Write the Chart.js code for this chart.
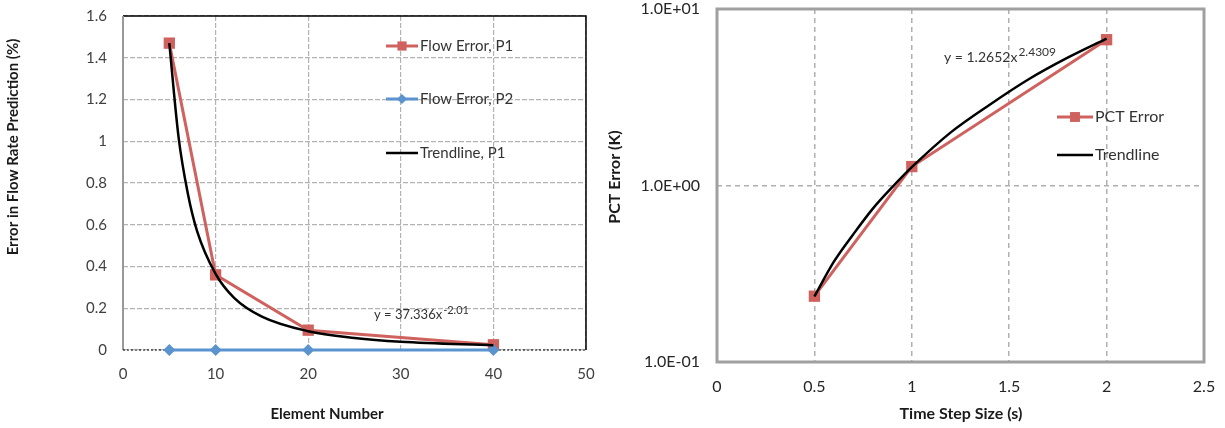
<!DOCTYPE html>
<html>
<head>
<meta charset="utf-8">
<script src="https://cdn.jsdelivr.net/npm/chart.js@4.4.1/dist/chart.umd.min.js"></script>
<style>
    html, body { margin: 0; padding: 0; background: #fff; }
    #leftBox { position: absolute; left: 0; top: 0; width: 600px; height: 428px; }
    #rightBox { position: absolute; left: 600px; top: 0; width: 625px; height: 428px; }
</style>
</head>
<body>
<div id="leftBox"><canvas id="flowChart"></canvas></div>
<div id="rightBox"><canvas id="pctChart"></canvas></div>
<script>
// dades llegides del grafic
const elementNumbers = [5, 10, 20, 40];
const flowErrorP1 = [1.47, 0.36, 0.095, 0.025];
const flowErrorP2 = [0, 0, 0, 0];
const trendP1X = [5, 6, 7, 8, 10, 12, 15, 20, 25, 30, 40];
const trendP1Y = [1.47, 1.02, 0.75, 0.57, 0.365, 0.25, 0.16, 0.09, 0.058, 0.04, 0.023];

const timeSteps = [0.5, 1, 2];
const pctError = [0.236, 1.28, 6.7];
const trendPctX = [0.5, 0.6, 0.7, 0.8, 0.9, 1, 1.2, 1.4, 1.6, 1.8, 2];
const trendPctY = [0.235, 0.37, 0.53, 0.74, 0.98, 1.27, 2.0, 2.87, 4.0, 5.3, 6.8];
const pctTicksY = [0.1, 1, 10];

const RED = '#cf625e';
const BLUE = '#5b93cf';
const FONT = 'Lato';

function toPoints(xs, ys) {
    return xs.map((x, i) => ({ x: x, y: ys[i] }));
}

function sciLabel(v) {
    const e = Math.round(Math.log10(v));
    const m = v / Math.pow(10, e);
    return m.toFixed(1) + 'E' + (e < 0 ? '-' : '+') + String(Math.abs(e)).padStart(2, '0');
}

// treu el farciment automatic de les etiquetes perque l'area quedi on toca
function noPadding(s) {
    s.paddingTop = 0;
    s.paddingBottom = 0;
    s.paddingLeft = 0;
    s.paddingRight = 0;
}

function drawEquation(ctx, x, y, base, sup, size, supSize) {
    ctx.save();
    ctx.fillStyle = '#333';
    ctx.textBaseline = 'middle';
    ctx.textAlign = 'left';
    ctx.font = size + 'px ' + FONT;
    ctx.fillText(base, x, y);
    const w = ctx.measureText(base).width;
    ctx.font = supSize + 'px ' + FONT;
    ctx.fillText(sup, x + w + 1, y - 5);
    ctx.restore();
}

function drawTitle(ctx, text, x, y, vertical, size) {
    ctx.save();
    ctx.fillStyle = '#1a1a1a';
    ctx.font = 'bold ' + size + 'px ' + FONT;
    ctx.textAlign = 'center';
    ctx.textBaseline = 'middle';
    ctx.translate(x, y);
    if (vertical) ctx.rotate(-Math.PI / 2);
    ctx.fillText(text, 0, 0);
    ctx.restore();
}

function drawLegend(ctx, items, x0, x1, size) {
    items.forEach(item => {
        ctx.save();
        ctx.strokeStyle = item.color;
        ctx.lineWidth = item.lineWidth;
        ctx.beginPath();
        ctx.moveTo(x0, item.y);
        ctx.lineTo(x1, item.y);
        ctx.stroke();
        if (item.pointStyle) {
            ctx.fillStyle = item.color;
            Chart.helpers.drawPoint(ctx, { pointStyle: item.pointStyle, radius: item.radius, rotation: 0, borderWidth: 0 }, (x0 + x1) / 2, item.y);
        }
        ctx.fillStyle = '#333';
        ctx.font = size + 'px ' + FONT;
        ctx.textBaseline = 'middle';
        ctx.fillText(item.label, x1 + 2, item.y);
        ctx.restore();
    });
}

// Grafic esquerre: error de cabal
const flowDecor = {
    id: 'flowDecor',
    beforeDatasetsDraw(chart) {
        const { ctx, chartArea: a } = chart;
        ctx.save();
        ctx.strokeStyle = '#000';
        ctx.lineWidth = 1.5;
        ctx.beginPath();
        ctx.moveTo(a.left, a.top);
        ctx.lineTo(a.right, a.top);
        ctx.lineTo(a.right, a.bottom);
        ctx.stroke();
        ctx.strokeStyle = '#999';
        ctx.lineWidth = 2;
        ctx.beginPath();
        ctx.moveTo(a.left, a.top);
        ctx.lineTo(a.left, a.bottom);
        ctx.stroke();
        ctx.strokeStyle = '#000';
        ctx.lineWidth = 1;
        ctx.setLineDash([2, 2]);
        ctx.beginPath();
        ctx.moveTo(a.left, a.bottom);
        ctx.lineTo(a.right, a.bottom);
        ctx.stroke();
        ctx.restore();
    },
    afterDraw(chart) {
        const ctx = chart.ctx;
        drawLegend(ctx, [
            { label: 'Flow Error, P1', color: RED, lineWidth: 3, pointStyle: 'rect', radius: 6.5, y: 46 },
            { label: 'Flow Error, P2', color: BLUE, lineWidth: 3, pointStyle: 'rectRot', radius: 5, y: 99 },
            { label: 'Trendline, P1', color: '#000', lineWidth: 2.5, y: 153 }
        ], 386, 418, 15);
        drawEquation(ctx, 374, 315, 'y = 37.336x', '-2.01', 13, 11);
        drawTitle(ctx, 'Element Number', 327, 414, false, 15);
        drawTitle(ctx, 'Error in Flow Rate Prediction (%)', 13, 147, true, 15);
    }
};

new Chart(document.getElementById('flowChart'), {
    type: 'line',
    data: {
        datasets: [
            {
                label: 'Flow Error, P1',
                data: toPoints(elementNumbers, flowErrorP1),
                borderColor: RED,
                backgroundColor: RED,
                borderWidth: 3,
                pointStyle: 'rect',
                pointRadius: 8,
                pointBorderWidth: 0,
                clip: false,
                order: 3
            },
            {
                label: 'Flow Error, P2',
                data: toPoints(elementNumbers, flowErrorP2),
                borderColor: BLUE,
                backgroundColor: BLUE,
                borderWidth: 3,
                pointStyle: 'rectRot',
                pointRadius: 6,
                pointBorderWidth: 0,
                clip: false,
                order: 2
            },
            {
                label: 'Trendline, P1',
                data: toPoints(trendP1X, trendP1Y),
                borderColor: '#000',
                borderWidth: 2.5,
                pointRadius: 0,
                cubicInterpolationMode: 'monotone',
                clip: false,
                order: 1
            }
        ]
    },
    options: {
        responsive: true,
        maintainAspectRatio: false,
        animation: false,
        layout: { padding: { top: 16, right: 14, left: 0, bottom: 0 } },
        plugins: { legend: { display: false }, tooltip: { enabled: false } },
        scales: {
            x: {
                type: 'linear',
                min: 0,
                max: 50,
                afterFit: s => { s.height = 78; noPadding(s); },
                ticks: {
                    stepSize: 10,
                    padding: 15,
                    color: '#404040',
                    font: { family: FONT, size: 15 },
                    callback: v => String(v)
                },
                grid: { color: '#b3b3b3', lineWidth: 1.2, drawTicks: false },
                border: { display: false, dash: [5, 2] }
            },
            y: {
                min: 0,
                max: 1.6,
                afterFit: s => { s.width = 123; noPadding(s); },
                ticks: {
                    stepSize: 0.2,
                    padding: 16,
                    color: '#404040',
                    font: { family: FONT, size: 15 },
                    callback: v => String(+v.toFixed(1))
                },
                grid: { color: '#b3b3b3', lineWidth: 1.2, drawTicks: false },
                border: { display: false, dash: [5, 2] }
            }
        }
    },
    plugins: [flowDecor]
});

// Grafic dret: error PCT
const pctDecor = {
    id: 'pctDecor',
    beforeDatasetsDraw(chart) {
        const { ctx, chartArea: a } = chart;
        ctx.save();
        ctx.strokeStyle = '#a0a0a0';
        ctx.lineWidth = 3;
        ctx.strokeRect(a.left, a.top, a.right - a.left, a.bottom - a.top);
        ctx.restore();
    },
    afterDraw(chart) {
        const ctx = chart.ctx;
        drawLegend(ctx, [
            { label: 'PCT Error', color: RED, lineWidth: 3, pointStyle: 'rect', radius: 7, y: 117 },
            { label: 'Trendline', color: '#000', lineWidth: 2.5, y: 155 }
        ], 457, 493, 16);
        drawEquation(ctx, 344, 57, 'y = 1.2652x', '2.4309', 14, 12);
        drawTitle(ctx, 'Time Step Size (s)', 361, 414, false, 16);
        drawTitle(ctx, 'PCT Error (K)', 15, 177, true, 16);
    }
};

new Chart(document.getElementById('pctChart'), {
    type: 'line',
    data: {
        datasets: [
            {
                label: 'PCT Error',
                data: toPoints(timeSteps, pctError),
                borderColor: RED,
                backgroundColor: RED,
                borderWidth: 3,
                pointStyle: 'rect',
                pointRadius: 8,
                pointBorderWidth: 0,
                clip: false,
                order: 2
            },
            {
                label: 'Trendline',
                data: toPoints(trendPctX, trendPctY),
                borderColor: '#000',
                borderWidth: 2.5,
                pointRadius: 0,
                cubicInterpolationMode: 'monotone',
                clip: false,
                order: 1
            }
        ]
    },
    options: {
        responsive: true,
        maintainAspectRatio: false,
        animation: false,
        layout: { padding: { top: 9, right: 21, left: 0, bottom: 0 } },
        plugins: { legend: { display: false }, tooltip: { enabled: false } },
        scales: {
            x: {
                type: 'linear',
                min: 0,
                max: 2.5,
                afterFit: s => { s.height = 66; noPadding(s); },
                ticks: {
                    stepSize: 0.5,
                    padding: 15,
                    color: '#262626',
                    font: { family: FONT, size: 16 },
                    callback: v => String(v)
                },
                grid: { color: '#b0b0b0', lineWidth: 1.5, drawTicks: false },
                border: { display: false, dash: [5, 4] }
            },
            y: {
                type: 'logarithmic',
                min: 0.1,
                max: 10,
                afterFit: s => { s.width = 117; noPadding(s); },
                afterBuildTicks: s => { s.ticks = pctTicksY.map(v => ({ value: v })); },
                ticks: {
                    padding: 17,
                    color: '#262626',
                    font: { family: FONT, size: 16 },
                    callback: v => sciLabel(v)
                },
                grid: { color: '#b0b0b0', lineWidth: 1.5, drawTicks: false },
                border: { display: false, dash: [5, 4] }
            }
        }
    },
    plugins: [pctDecor]
});
</script>
</body>
</html>
